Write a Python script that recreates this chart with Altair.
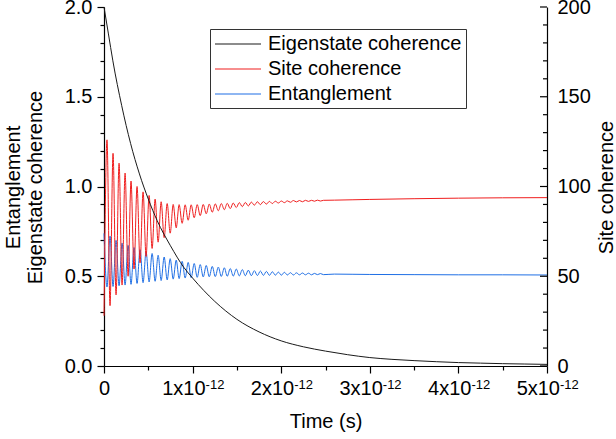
import altair as alt
import pandas as pd

series_names = ["Eigenstate coherence", "Site coherence", "Entanglement"]
series_colors = ["#1a1a1a", "#f01e1e", "#1f6fe5"]

# Eigenstate coherence (left axis)
eig_time_ps = [0, 0.05, 0.1, 0.2, 0.3, 0.4, 0.5, 0.6, 0.75, 0.9, 1.0, 1.25, 1.5, 1.75,
               2.0, 2.25, 2.5, 2.75, 3.0, 3.25, 3.5, 3.75, 4.0, 4.25, 4.5, 4.75, 5.0]
eig_values = [2.0, 1.85, 1.70, 1.45, 1.24, 1.07, 0.93, 0.81, 0.67, 0.55, 0.49, 0.36, 0.26, 0.19,
              0.14, 0.107, 0.083, 0.063, 0.047, 0.037, 0.030, 0.024, 0.019, 0.016, 0.013,
              0.011, 0.009]

# times of the successive extrema of the oscillations (ps)
osc_time_ps = [0.000, 0.034, 0.068, 0.102, 0.136, 0.170, 0.204, 0.238, 0.272, 0.305,
               0.339, 0.373, 0.407, 0.441, 0.475, 0.509, 0.543, 0.577, 0.611, 0.645,
               0.679, 0.713, 0.747, 0.781, 0.815, 0.848, 0.882, 0.916, 0.950, 0.984,
               1.018, 1.052, 1.086, 1.120, 1.154, 1.188, 1.222, 1.256, 1.290, 1.324,
               1.358, 1.391, 1.425, 1.459, 1.493, 1.527, 1.561, 1.595, 1.629, 1.663,
               1.697, 1.731, 1.765, 1.799, 1.833, 1.867, 1.900, 1.934, 1.968, 2.002,
               2.036, 2.070, 2.104, 2.138, 2.172, 2.206, 2.240, 2.274, 2.308, 2.342,
               2.376, 2.409, 2.443, 2.477]

# Site coherence (right axis) at those extrema
site_osc = [28.0, 126.0, 33.6, 118.5, 39.6, 113.0, 45.1, 107.5, 50.0, 103.0,
            54.0, 100.0, 57.5, 97.0, 61.0, 95.0, 65.5, 93.0, 69.0, 91.5,
            71.5, 90.5, 74.0, 90.0, 77.0, 89.9, 79.5, 89.8, 81.2, 89.8,
            82.6, 89.9, 83.8, 90.0, 84.8, 90.2, 85.7, 90.3, 86.5, 90.5,
            87.1, 90.6, 87.7, 90.8, 88.3, 91.0, 88.8, 91.1, 89.2, 91.3,
            89.6, 91.5, 89.9, 91.6, 90.2, 91.7, 90.5, 91.8, 90.8, 91.9,
            91.0, 92.0, 91.2, 92.2, 91.4, 92.2, 91.5, 92.3, 91.7, 92.3,
            91.8, 92.4, 91.9, 92.3]

# Entanglement (left axis) at those extrema
ent_osc = [0.739, 0.440, 0.724, 0.443, 0.700, 0.447, 0.685, 0.451, 0.672, 0.455,
           0.660, 0.460, 0.648, 0.464, 0.637, 0.468, 0.627, 0.472, 0.617, 0.476,
           0.607, 0.480, 0.598, 0.484, 0.590, 0.487, 0.583, 0.490, 0.577, 0.492,
           0.571, 0.494, 0.565, 0.496, 0.560, 0.497, 0.555, 0.498, 0.551, 0.499,
           0.547, 0.500, 0.543, 0.501, 0.540, 0.502, 0.537, 0.503, 0.534, 0.503,
           0.531, 0.504, 0.529, 0.505, 0.527, 0.505, 0.525, 0.506, 0.523, 0.506,
           0.522, 0.507, 0.520, 0.507, 0.519, 0.508, 0.518, 0.508, 0.517, 0.508,
           0.516, 0.509, 0.515, 0.509]

# settled tails
tail_time_ps = [2.6, 2.8, 3.0, 3.5, 4.0, 4.5, 5.0]
site_tail = [92.4, 92.6, 92.8, 93.2, 93.5, 93.7, 93.8]
ent_tail = [0.512, 0.511, 0.510, 0.509, 0.508, 0.508, 0.507]

# axis tick values and labels
x_tick_values = [0, 0.5, 1, 1.5, 2, 2.5, 3, 3.5, 4, 4.5, 5]
x_label_values = [1, 2, 3, 4, 5]
x_label_mantissa = ["1x10", "2x10", "3x10", "4x10", "5x10"]
x_label_exponent = ["-12", "-12", "-12", "-12", "-12"]
left_tick_values = [0.0, 0.1, 0.2, 0.3, 0.4, 0.5, 0.6, 0.7, 0.8, 0.9, 1.0,
                    1.1, 1.2, 1.3, 1.4, 1.5, 1.6, 1.7, 1.8, 1.9, 2.0]
right_label_values = [0, 50, 100, 150, 200]
right_minor_values = [10, 20, 30, 40, 60, 70, 80, 90, 110, 120, 130, 140,
                      160, 170, 180, 190]

FONT = "Liberation Sans"
W, H = 443, 359

eig_df = pd.DataFrame({"t": eig_time_ps, "v": eig_values, "series": series_names[0]})
ent_df = pd.DataFrame({"t": osc_time_ps + tail_time_ps, "v": ent_osc + ent_tail,
                       "series": series_names[2]})
site_df = pd.DataFrame({"t": osc_time_ps + tail_time_ps, "v": site_osc + site_tail,
                        "series": series_names[1]})
rmaj_df = pd.DataFrame({"v": right_label_values})
rmin_df = pd.DataFrame({"v": right_minor_values})
xlab_df = pd.DataFrame({"t": x_label_values, "m": x_label_mantissa, "e": x_label_exponent})

legend = alt.Legend(
    title=None, orient="none", legendX=106, legendY=22,
    symbolType="M-1,0H3.6", symbolSize=400, symbolStrokeWidth=1.2,
    labelFontSize=20, labelFont=FONT, labelColor="black", labelOffset=32,
    labelLimit=0,
    padding=4, rowPadding=4, strokeColor="#333333", fillColor="white",
)
color = alt.Color("series:N", scale=alt.Scale(domain=series_names, range=series_colors),
                  legend=legend)

x_scale = alt.Scale(domain=[0, 5], nice=False, zero=False)
x_enc = alt.X(
    "t:Q",
    scale=x_scale,
    axis=alt.Axis(
        values=x_tick_values,
        labelExpr="datum.value == 0 ? '0' : ''",
        tickSize={"condition": {"test": "abs(datum.value - round(datum.value)) < 1e-6", "value": 7}, "value": 4},
        labelPadding=5, labelOverlap=False, labelFlush=False,
        title="Time (s)", titleX=221.5, titleY=45, titleAnchor="middle",
    ),
)

left_y = alt.Y(
    "v:Q",
    scale=alt.Scale(domain=[0, 2], nice=False, zero=False),
    axis=alt.Axis(
        orient="left",
        values=left_tick_values,
        labelExpr="abs(datum.value*2 - round(datum.value*2)) < 1e-6 ? format(datum.value, '.1f') : ''",
        tickSize={"condition": {"test": "abs(datum.value*2 - round(datum.value*2)) < 1e-6", "value": 7}, "value": 4},
        labelPadding=5, labelOverlap=False, labelFlush=False,
        title=["Entanglement", "Eigenstate coherence"],
        titleAngle=270, titleBaseline="bottom", titleAlign="center",
        titleX=-81, titleY=180, titleLineHeight=22,
    ),
)

right_y = alt.Y(
    "v:Q",
    scale=alt.Scale(domain=[0, 200], nice=False, zero=False),
    axis=alt.Axis(
        orient="right",
        values=right_label_values,
        ticks=False, labelPadding=10, labelOverlap=False, labelFlush=False,
        title="Site coherence", titleAngle=270, titleBaseline="top",
        titleAlign="center", titleX=49, titleY=180,
    ),
)

blue = alt.Chart(ent_df).mark_line(strokeWidth=1, interpolate="monotone").encode(
    x=x_enc, y=left_y, color=color)

red_line = alt.Chart(site_df).mark_line(strokeWidth=1, interpolate="monotone").encode(
    x=x_enc, y=right_y, color=color)
rmaj = alt.Chart(rmaj_df).mark_rule(color="black", strokeWidth=1.2, x2Offset=-7).encode(
    y=right_y, x=alt.datum(5), x2=alt.datum(5))
rmin = alt.Chart(rmin_df).mark_rule(color="black", strokeWidth=1.2, x2Offset=-4).encode(
    y=right_y, x=alt.datum(5), x2=alt.datum(5))
right_layer = alt.layer(red_line, rmaj, rmin)

black = alt.Chart(eig_df).mark_line(strokeWidth=1, interpolate="monotone").encode(
    x=x_enc,
    y=alt.Y("v:Q", scale=alt.Scale(domain=[0, 2], nice=False, zero=False), axis=None),
    color=color)

# tick labels of the form 1x10^-12 (mantissa + raised exponent)
xlab_m = alt.Chart(xlab_df).mark_text(
    align="right", baseline="alphabetic", dx=13, fontSize=20, font=FONT, color="black"
).encode(x=alt.X("t:Q", scale=x_scale), y=alt.value(H + 29.3), text="m:N")
xlab_e = alt.Chart(xlab_df).mark_text(
    align="left", baseline="alphabetic", dx=13, fontSize=13, font=FONT, color="black"
).encode(x=alt.X("t:Q", scale=x_scale), y=alt.value(H + 22.5), text="e:N")

chart = alt.layer(blue, right_layer, black, xlab_m, xlab_e).resolve_scale(
    y="independent"
).properties(
    width=W, height=H,
    padding={"left": 104, "top": 7, "right": 69, "bottom": 73},
    autosize=alt.AutoSizeParams(type="none"),
).configure(font=FONT).configure_view(stroke=None).configure_axis(
    labelFont=FONT, titleFont=FONT, labelFontSize=20, titleFontSize=20,
    titleFontWeight="normal", labelColor="black", titleColor="black",
    domainColor="black", tickColor="black", domainWidth=1.2, tickWidth=1.2,
    grid=False,
)

chart.save("out.html", embed_options={"renderer": "svg", "actions": False})
